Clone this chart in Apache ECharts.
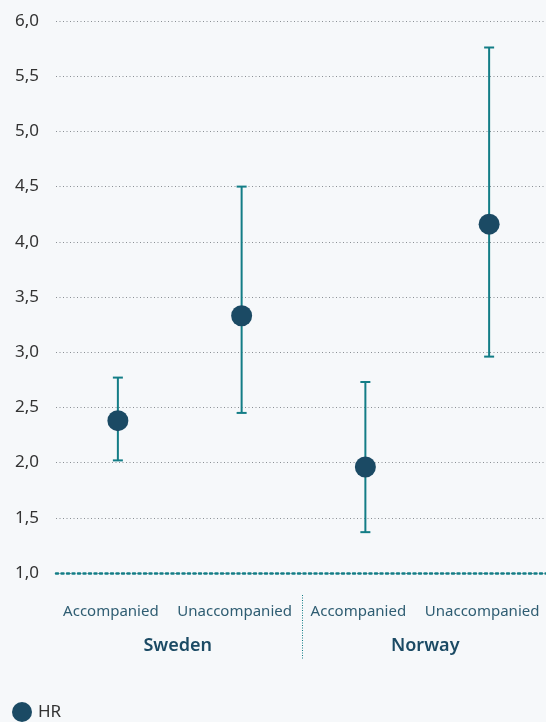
<!DOCTYPE html>
<html><head><meta charset="utf-8">
<script src="https://cdn.jsdelivr.net/npm/echarts@6/dist/echarts.min.js"></script>
<style>html,body{margin:0;padding:0;background:#f6f8fa;overflow:hidden}#c{width:551px;height:722px}</style>
</head><body><div id="c"></div>
<script>
const categories = ['Accompanied','Unaccompanied','Accompanied','Unaccompanied'];
const groups = ['Sweden','Norway'];
const hr = [2.38, 3.33, 1.96, 4.16];
const lower = [2.02, 2.45, 1.37, 2.96];
const upper = [2.77, 4.50, 2.73, 5.76];
const yTicks = {min: 1, max: 6, interval: 0.5};

const teal = '#137d86', navy = '#1b4a64';
const chart = echarts.init(document.getElementById('c'));
chart.setOption({
  backgroundColor: '#f6f8fa',
  animation: false,
  textStyle: {fontFamily: 'Noto Sans'},
  grid: {left: 56, right: 0, top: 21, bottom: 149, containLabel: false},
  xAxis: [{
    type: 'category', data: categories, position: 'bottom',
    axisLine: {show: true, lineStyle: {color: teal, width: 2.5, type: [2, 3.5]}},
    axisTick: {show: false},
    axisLabel: {margin: 31, fontSize: 15, color: '#2f5d72', interval: 0, padding: [0, 14, 0, 0]}
  }, {
    type: 'category', data: groups, position: 'bottom', offset: 58,
    axisLine: {show: false}, axisTick: {show: false},
    axisLabel: {margin: 6, fontSize: 18, fontWeight: 600, color: navy, padding: [0, 4, 0, 0]}
  }],
  yAxis: {
    type: 'value', min: yTicks.min, max: yTicks.max, interval: yTicks.interval,
    axisLine: {show: false}, axisTick: {show: false},
    axisLabel: {margin: 17, fontSize: 17, color: '#333',
      formatter: v => v.toFixed(1).replace('.', ',')},
    splitLine: {lineStyle: {color: '#8a8f94', width: 1, type: [1, 2.5]}}
  },
  legend: {
    data: [{name: 'HR', icon: 'circle'}], left: 12, bottom: 0, padding: 0,
    itemWidth: 20, itemHeight: 20, itemGap: 4,
    textStyle: {fontSize: 17, color: '#333', padding: [0, 0, 0, 1]}
  },
  graphic: [{
    type: 'line', shape: {x1: 302.5, y1: 595, x2: 302.5, y2: 660},
    style: {stroke: teal, lineWidth: 1, lineDash: [1, 1.5]}
  }],
  series: [{
    type: 'custom', name: 'CI',
    data: categories.map((c, i) => [i, lower[i], upper[i]]),
    renderItem: (params, api) => {
      const lo = api.coord([api.value(0), api.value(1)]);
      const hi = api.coord([api.value(0), api.value(2)]);
      const w = 5;
      const st = {stroke: teal, lineWidth: 2};
      return {type: 'group', children: [
        {type: 'line', shape: {x1: hi[0], y1: hi[1], x2: lo[0], y2: lo[1]}, style: st},
        {type: 'line', shape: {x1: hi[0]-w, y1: hi[1], x2: hi[0]+w, y2: hi[1]}, style: st},
        {type: 'line', shape: {x1: lo[0]-w, y1: lo[1], x2: lo[0]+w, y2: lo[1]}, style: st}
      ]};
    },
    z: 2
  }, {
    type: 'scatter', name: 'HR', data: hr.map((v, i) => [i, v]),
    symbol: 'circle', symbolSize: 21, itemStyle: {color: navy, opacity: 1}, z: 3
  }]
});
</script></body></html>
